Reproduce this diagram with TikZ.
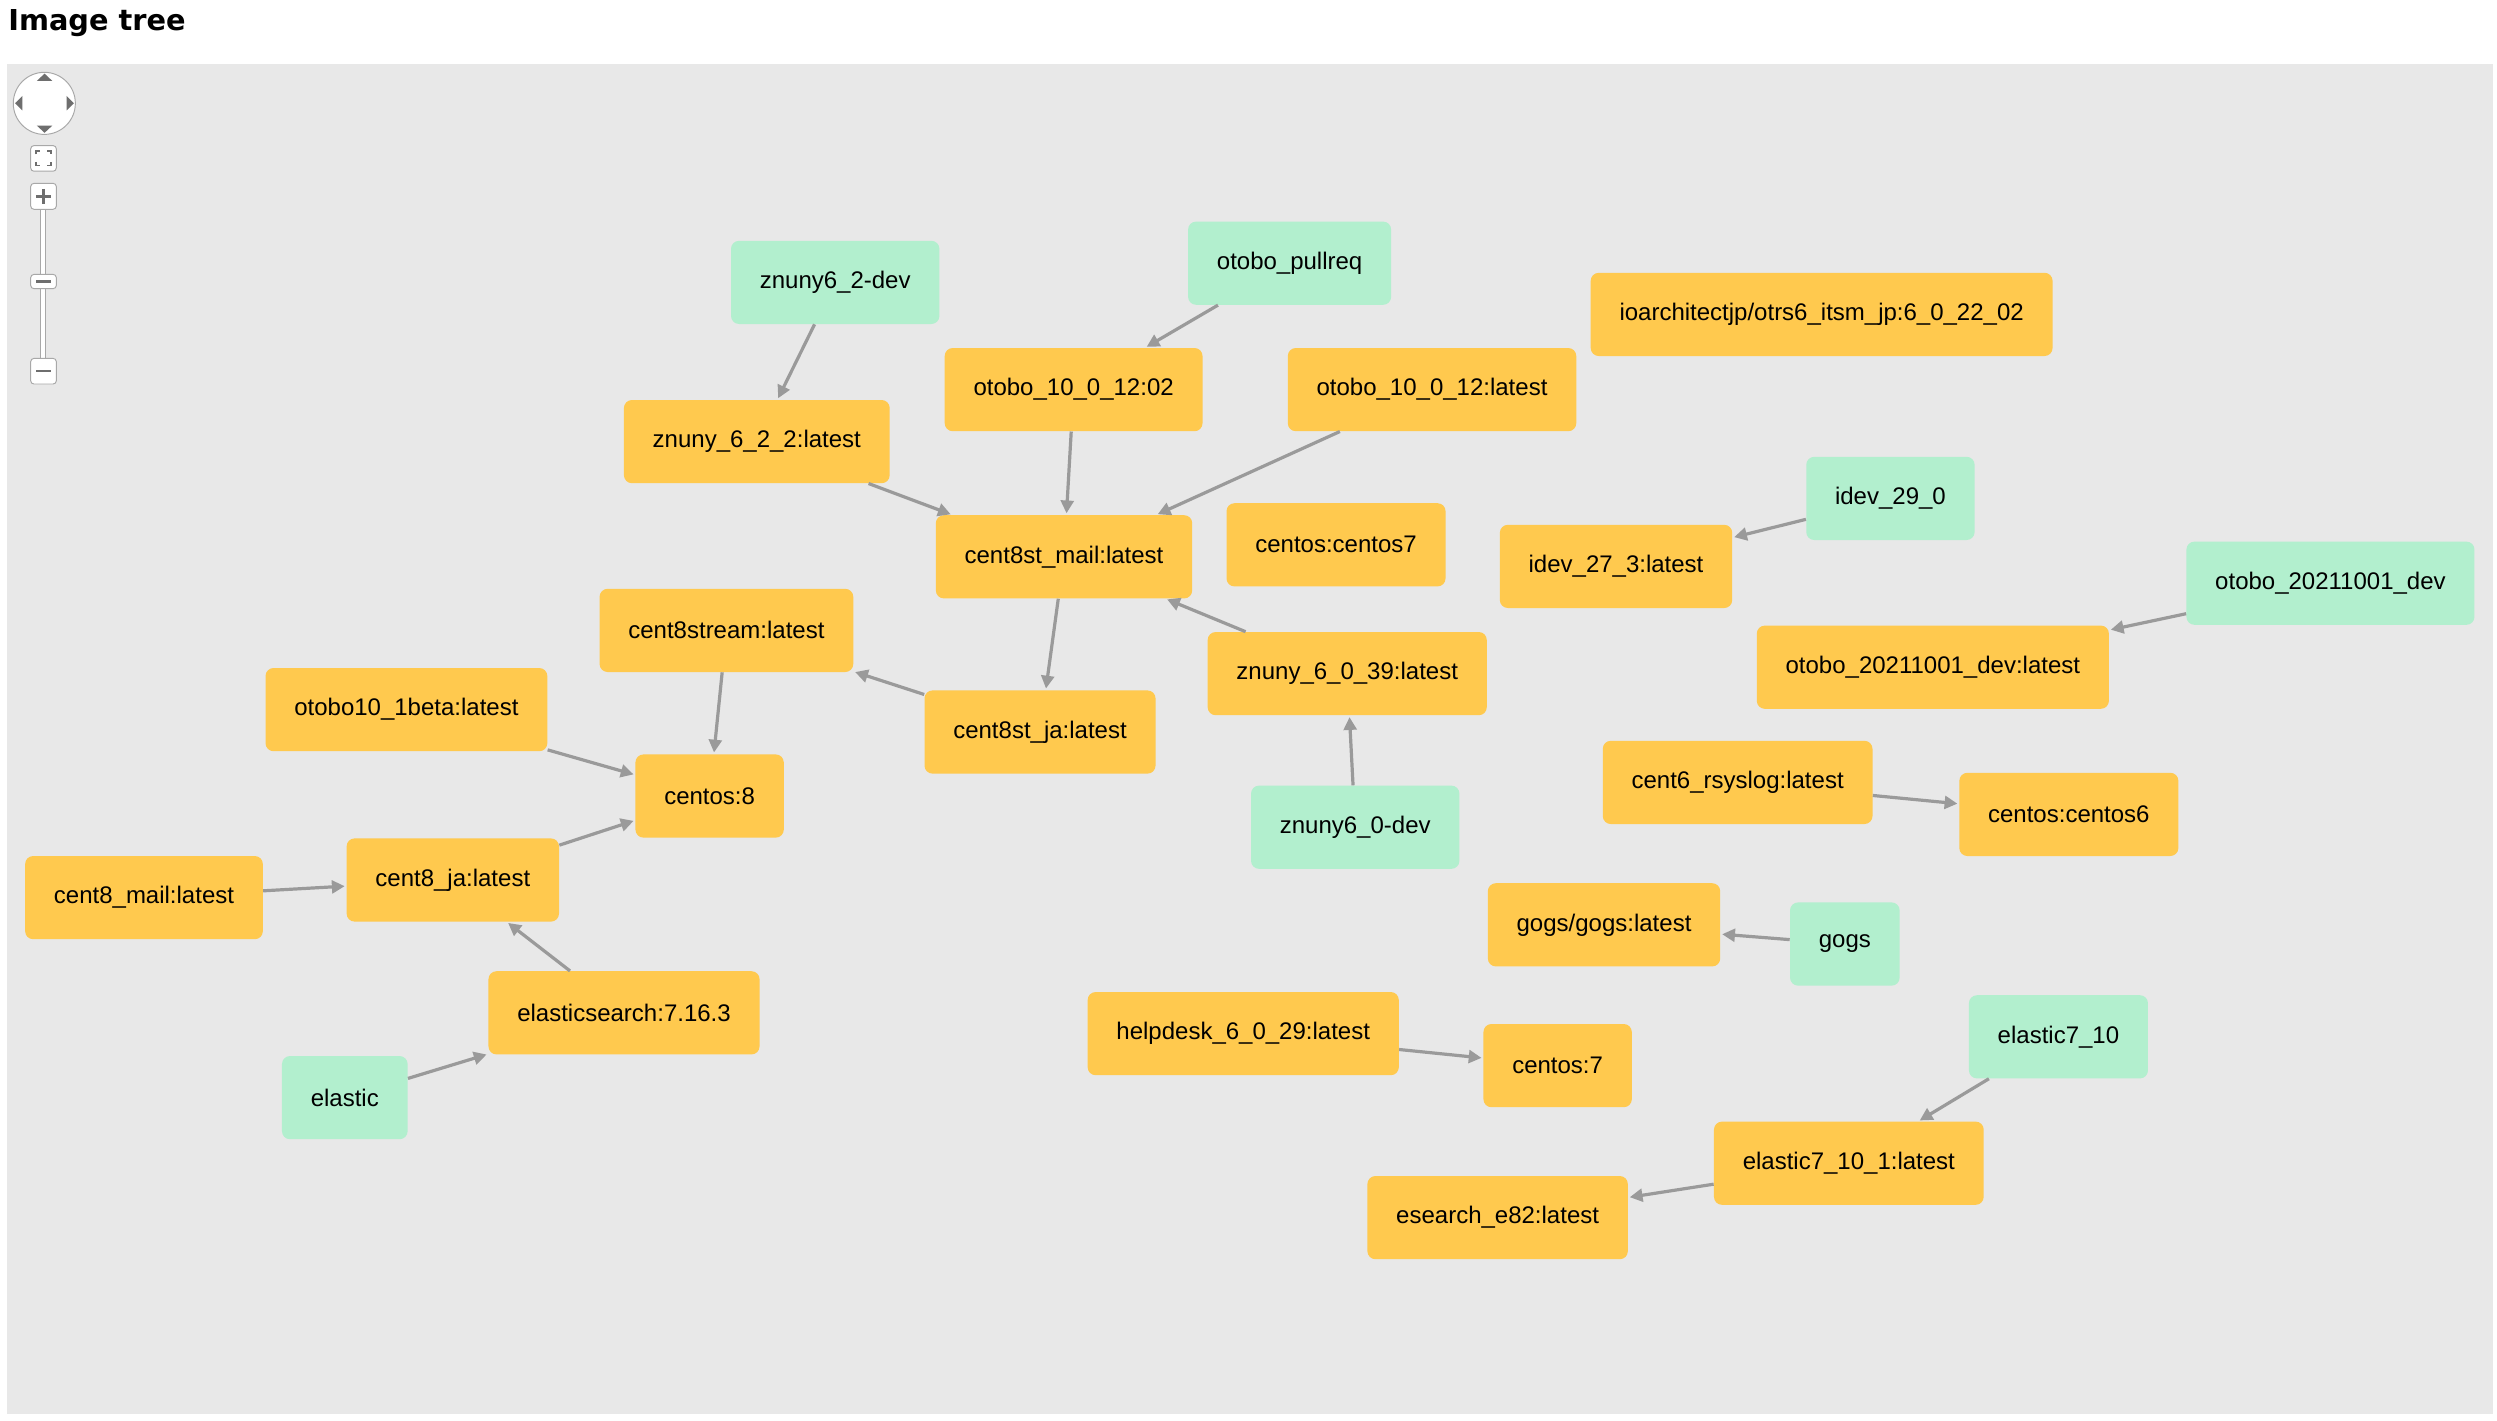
\documentclass[tikz,border=0pt]{standalone}
\usepackage{fontspec}
\setmainfont{Liberation Sans}
\newfontfamily\titlefont{DejaVu Sans}
\usetikzlibrary{arrows.meta}
\definecolor{img}{HTML}{FFC94E}
\definecolor{base}{HTML}{B2EFCE}
\definecolor{bg}{HTML}{E8E8E8}
\definecolor{edge}{HTML}{9A9A9A}
\definecolor{ctl}{HTML}{6E6E6E}
\definecolor{ctlborder}{HTML}{A8A8A8}
\tikzset{
  box/.style={rectangle, rounded corners=5pt, minimum height=52pt, inner xsep=18pt,
    font=\fontsize{15}{18}\selectfont, text=black},
  imgbox/.style={box, fill=img},
  basebox/.style={box, fill=base},
  link/.style={draw=edge, line width=2pt, -{Triangle[length=8pt,width=8pt]}, shorten >=1pt},
  ctlbtn/.style={draw=ctlborder, fill=white, line width=0.6pt, rounded corners=2pt},
}
\begin{document}
\begin{tikzpicture}[x=1pt,y=-1pt]
\useasboundingbox (0,0) rectangle (1560.6,888.1);
\fill[white] (0,0) rectangle (1560.6,888.1);
\fill[bg] (4.4,40) rectangle (1558,884);
\node[anchor=base west, inner sep=0pt, font=\titlefont\bfseries\fontsize{18}{22}\selectfont] (title) at (5,19) {Image tree};

% navigation widget
\draw[ctlborder, fill=white, line width=0.6pt] (27.7,64.6) circle (19.4);
\fill[ctl] (23,50.6) -- (32.7,50.6) -- (27.85,46) -- cycle;
\fill[ctl] (23,78.5) -- (32.7,78.5) -- (27.85,83) -- cycle;
\fill[ctl] (14,60) -- (14,69) -- (9.4,64.5) -- cycle;
\fill[ctl] (41.7,60) -- (41.7,69) -- (46.2,64.5) -- cycle;
% fit button
\draw[ctlbtn] (19.2,91) rectangle (35.2,107);
\draw[ctl, line width=1pt] (22.5,96.5) -- (22.5,94.3) -- (24.7,94.3);
\draw[ctl, line width=1pt] (29.5,94.3) -- (31.7,94.3) -- (31.7,96.5);
\draw[ctl, line width=1pt] (22.5,101.2) -- (22.5,103.4) -- (24.7,103.4);
\draw[ctl, line width=1pt] (29.5,103.4) -- (31.7,103.4) -- (31.7,101.2);
% zoom slider
\draw[ctlborder, fill=white, line width=0.6pt] (25.2,130.8) rectangle (28.6,224);
\draw[ctlbtn] (19.2,114.6) rectangle (35.2,130.8);
\draw[ctl, line width=1.6pt] (22.5,122.7) -- (31.9,122.7);
\draw[ctl, line width=1.6pt] (27.2,118) -- (27.2,127.4);
\draw[ctlbtn] (19.2,171.5) rectangle (35.2,180.4);
\draw[ctl, line width=1.4pt] (22.5,176) -- (31.9,176);
\draw[ctlbtn] (19.2,224) rectangle (35.2,240);
\draw[ctl, line width=1.6pt] (22.5,232) -- (31.9,232);

% nodes
\node[basebox] (zdev62) at (522,176.5) {znuny6\_2-dev};
\node[basebox] (opull) at (806,164.5) {otobo\_pullreq};
\node[imgbox] (ioarch) at (1138.5,196.5) {ioarchitectjp/otrs6\_itsm\_jp:6\_0\_22\_02};
\node[imgbox] (o1202) at (671,243.5) {otobo\_10\_0\_12:02};
\node[imgbox] (o12lat) at (895,243.5) {otobo\_10\_0\_12:latest};
\node[imgbox] (z622) at (473,276) {znuny\_6\_2\_2:latest};
\node[basebox] (idev29) at (1181.5,311.5) {idev\_29\_0};
\node[imgbox] (c8stmail) at (665,348) {cent8st\_mail:latest};
\node[imgbox] (cc7) at (835,340.5) {centos:centos7};
\node[imgbox] (idev27) at (1010,354) {idev\_27\_3:latest};
\node[basebox] (o2021dev) at (1456.5,364.5) {otobo\_20211001\_dev};
\node[imgbox] (c8stream) at (454,394) {cent8stream:latest};
\node[imgbox] (o2021lat) at (1208,417) {otobo\_20211001\_dev:latest};
\node[imgbox] (z6039) at (842,421) {znuny\_6\_0\_39:latest};
\node[imgbox] (o10beta) at (254,443.5) {otobo10\_1beta:latest};
\node[imgbox] (c8stja) at (650,457.5) {cent8st\_ja:latest};
\node[imgbox] (c8) at (443.5,497.5) {centos:8};
\node[imgbox] (c6rsys) at (1086,489) {cent6\_rsyslog:latest};
\node[imgbox] (cc6) at (1293,509) {centos:centos6};
\node[basebox] (zdev60) at (847,517) {znuny6\_0-dev};
\node[imgbox] (c8ja) at (283,550) {cent8\_ja:latest};
\node[imgbox] (c8mail) at (90,561) {cent8\_mail:latest};
\node[imgbox] (gogslat) at (1002.5,578) {gogs/gogs:latest};
\node[basebox] (gogs) at (1153,590) {gogs};
\node[imgbox] (es7163) at (390,633) {elasticsearch:7.16.3};
\node[imgbox] (helpdesk) at (777,646) {helpdesk\_6\_0\_29:latest};
\node[basebox] (el710) at (1286.5,648) {elastic7\_10};
\node[imgbox] (c7) at (973.5,666) {centos:7};
\node[basebox] (elastic) at (215.5,686) {elastic};
\node[imgbox] (el7101) at (1155.5,727) {elastic7\_10\_1:latest};
\node[imgbox] (esearch) at (936,761) {esearch\_e82:latest};

% edges
\draw[link] (zdev62) -- (z622);
\draw[link] (opull) -- (o1202);
\draw[link] (o1202) -- (c8stmail);
\draw[link] (o12lat) -- (c8stmail);
\draw[link] (z622) -- (c8stmail);
\draw[link] (c8stmail) -- (c8stja);
\draw[link] (z6039) -- (c8stmail);
\draw[link] (zdev60) -- (z6039);
\draw[link] (c8stja) -- (c8stream);
\draw[link] (c8stream) -- (c8);
\draw[link] (o10beta) -- (c8);
\draw[link] (c8ja) -- (c8);
\draw[link] (c8mail) -- (c8ja);
\draw[link] (es7163) -- (c8ja);
\draw[link] (elastic) -- (es7163);
\draw[link] (idev29) -- (idev27);
\draw[link] (o2021dev) -- (o2021lat);
\draw[link] (c6rsys) -- (cc6);
\draw[link] (gogs) -- (gogslat);
\draw[link] (helpdesk) -- (c7);
\draw[link] (el710) -- (el7101);
\draw[link] (el7101) -- (esearch);
\end{tikzpicture}
\end{document}
